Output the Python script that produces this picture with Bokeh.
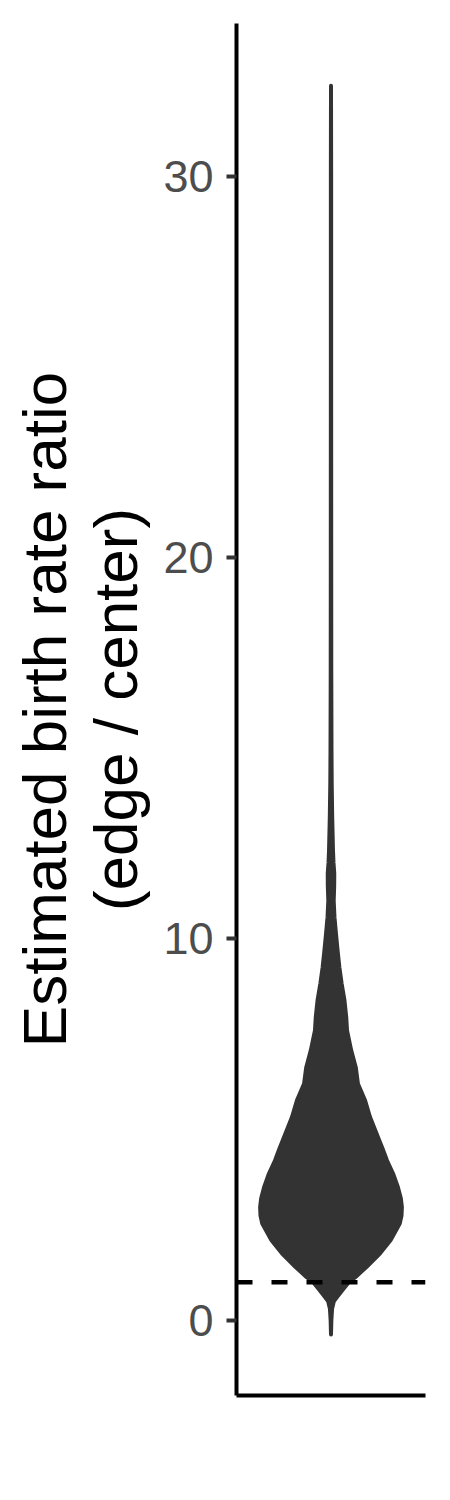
from bokeh.plotting import figure
from bokeh.models import Range1d, FixedTicker, Span
from bokeh.embed import file_html
from bokeh.resources import INLINE

# Density profile of the violin (value on y, relative density 0..1)
density_y = [-0.37, 0.0, 0.3, 0.5, 0.61, 0.79, 1.0, 1.13, 1.4, 1.75, 2.1, 2.54, 2.75, 2.97,
             3.2, 3.49, 3.85, 4.19, 4.54, 4.72, 5.33, 5.77, 6.2, 6.63, 7.08, 7.6, 7.95,
             8.39, 8.83, 9.26, 9.7, 10.14, 10.57, 11.0, 11.4, 11.72, 12.0, 12.32, 13.19,
             14.07, 14.94, 17.0, 20.0, 25.0, 30.0, 32.37]
density = [0.0, 0.005, 0.015, 0.04, 0.085, 0.16, 0.25, 0.343, 0.5, 0.69, 0.84, 0.97, 0.995, 1.0,
           0.985, 0.944, 0.875, 0.79, 0.72, 0.68, 0.55, 0.48, 0.38, 0.35, 0.285, 0.226, 0.215,
           0.19, 0.15, 0.118, 0.093, 0.07, 0.049, 0.038, 0.045, 0.046, 0.035, 0.028, 0.017,
           0.01, 0.007, 0.004, 0.003, 0.002, 0.002, 0.0]
reference_ratio = 1.0
y_ticks = [0, 10, 20, 30]
y_label = "Estimated birth rate ratio\n(edge / center)"

center = 1.0
half_max = 0.45
xs = [center + d * half_max for d in density] + [center - d * half_max for d in reversed(density)]
ys = list(density_y) + list(reversed(density_y))

p = figure(width=430, height=1480, output_backend="svg", toolbar_location=None,
           x_range=Range1d(0.4, 1.6), y_range=Range1d(-1.97, 34.0),
           min_border_left=236, min_border_right=5, min_border_top=23, min_border_bottom=85)
p.outline_line_color = None
p.grid.visible = False
p.background_fill_color = "white"

p.patch(xs, ys, fill_color="#333333", line_color="#333333", line_width=4, line_join="round")

p.add_layout(Span(location=reference_ratio, dimension="width", line_color="black",
                  line_width=4.5, line_dash="16 19"))

ya = p.yaxis[0]
ya.ticker = FixedTicker(ticks=y_ticks)
ya.axis_line_width = 4
ya.axis_line_color = "black"
ya.major_tick_line_width = 4
ya.major_tick_line_color = "#333333"
ya.major_tick_out = 10
ya.major_tick_in = 0
ya.minor_tick_line_color = None
ya.major_label_text_font = "Liberation Sans"
ya.major_label_text_font_size = "45px"
ya.major_label_text_color = "#4d4d4d"
ya.major_label_standoff = 13
ya.axis_label = y_label
ya.axis_label_text_font = "Liberation Sans"
ya.axis_label_text_font_size = "62px"
ya.axis_label_text_font_style = "normal"
ya.axis_label_text_color = "black"
ya.axis_label_text_line_height = 1.03
ya.axis_label_standoff = 10

xa = p.xaxis[0]
xa.ticker = FixedTicker(ticks=[])
xa.axis_line_width = 4
xa.axis_line_color = "black"
xa.major_tick_line_color = None
xa.minor_tick_line_color = None
xa.major_label_text_font_size = "0px"

open("out.html", "w").write(file_html(p, INLINE))
